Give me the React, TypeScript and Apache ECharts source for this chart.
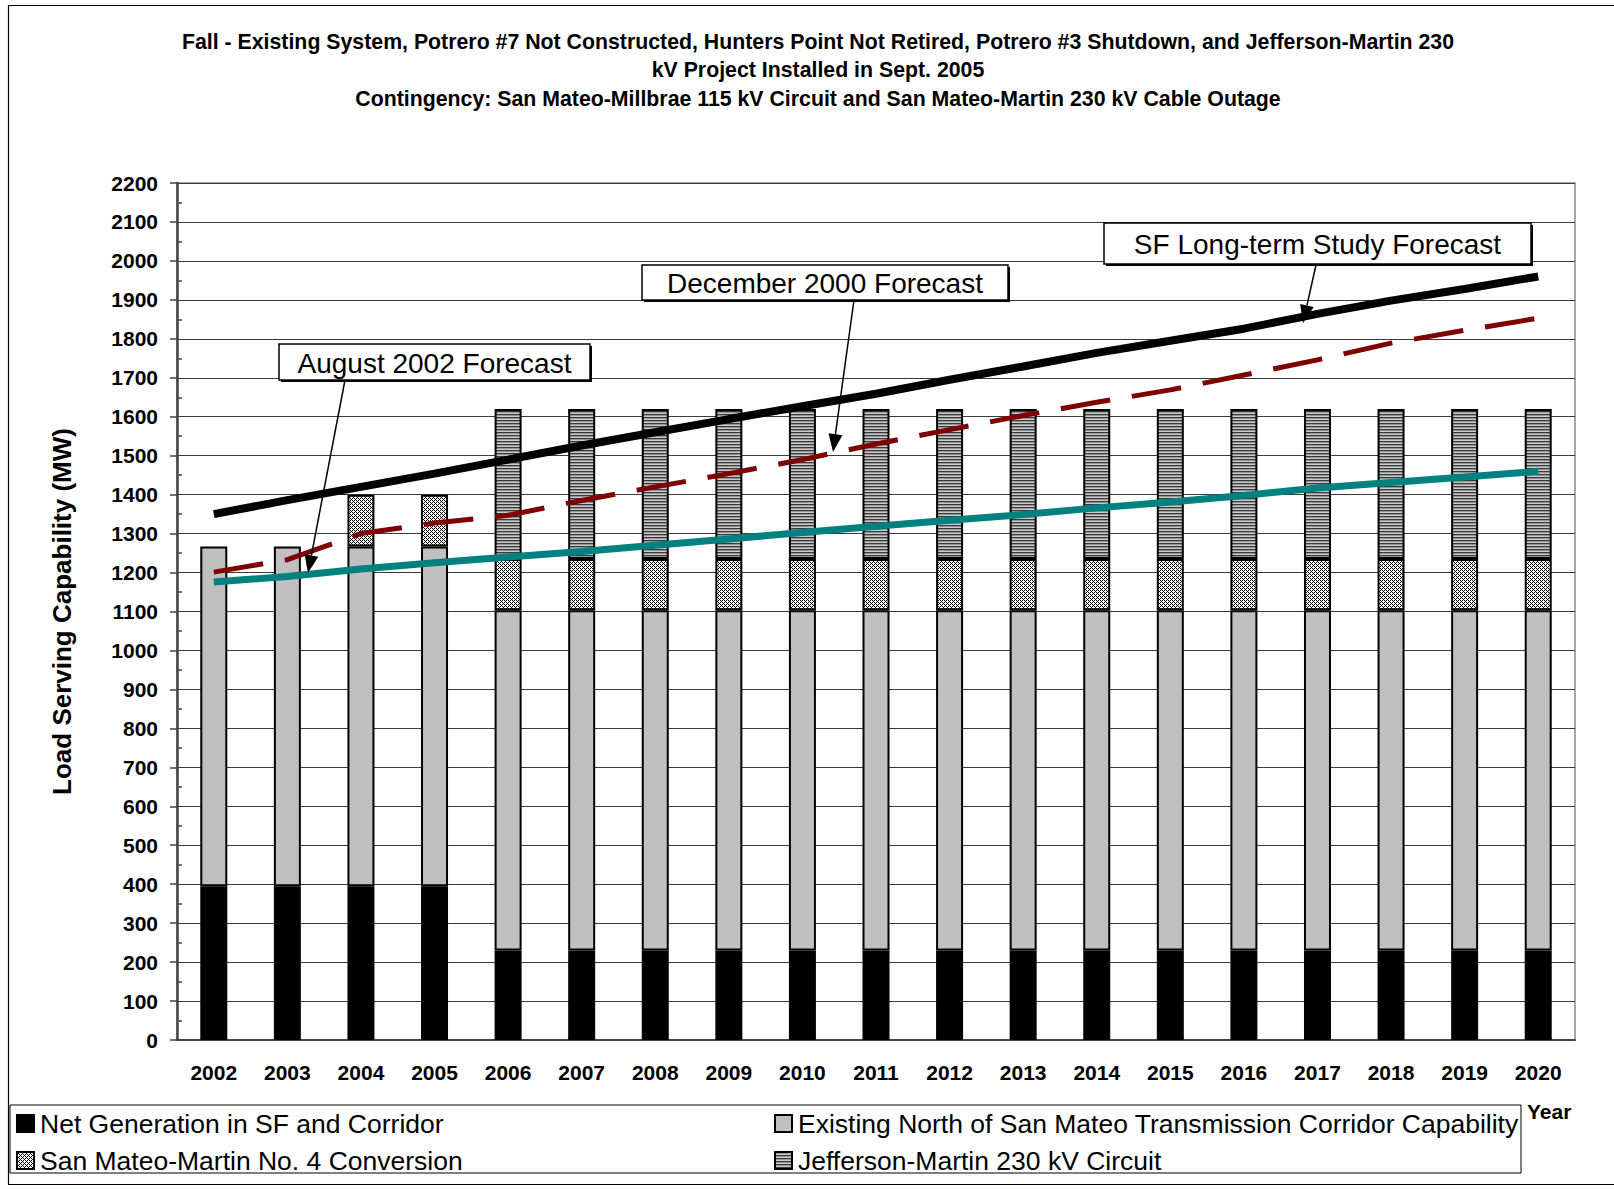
import React, { useEffect, useRef } from 'react';
import * as echarts from 'echarts';

const years = ['2002', '2003', '2004', '2005', '2006', '2007', '2008', '2009', '2010', '2011', '2012', '2013', '2014', '2015', '2016', '2017', '2018', '2019', '2020'];

const netGeneration = [395, 395, 395, 395, 230, 230, 230, 230, 230, 230, 230, 230, 230, 230, 230, 230, 230, 230, 230];
const existingCorridor = [872, 872, 872, 872, 873, 873, 873, 873, 873, 873, 873, 873, 873, 873, 873, 873, 873, 873, 873];
const smmConversion = [null, null, 133, 133, 132, 132, 132, 132, 132, 132, 132, 132, 132, 132, 132, 132, 132, 132, 132];
const jeffersonMartin = [null, null, null, null, 385, 385, 385, 385, 385, 385, 385, 385, 385, 385, 385, 385, 385, 385, 385];

const sfLongTermForecast = [1350, 1386, 1420, 1454, 1490, 1526, 1560, 1594, 1627, 1659, 1695, 1729, 1764, 1795, 1826, 1864, 1898, 1928, 1960];
const dec2000Forecast = [1201, 1233, 1300, 1327, 1347, 1385, 1420, 1454, 1490, 1530, 1567, 1603, 1637, 1669, 1707, 1746, 1789, 1822, 1853];
const aug2002Forecast = [1176, 1190, 1209, 1225, 1240, 1254, 1270, 1286, 1303, 1319, 1334, 1349, 1366, 1381, 1398, 1417, 1431, 1445, 1460];

const yMin = 0;
const yMax = 2200;
const yStep = 100;

const titleLines = [
  'Fall - Existing System, Potrero #7 Not Constructed, Hunters Point Not Retired, Potrero #3 Shutdown, and Jefferson-Martin 230',
  'kV Project Installed in Sept. 2005',
  'Contingency: San Mateo-Millbrae 115 kV Circuit and San Mateo-Martin 230 kV Cable Outage',
];

const seriesNames = {
  net: 'Net Generation in SF and Corridor',
  existing: 'Existing North of San Mateo Transmission Corridor Capability',
  conversion: 'San Mateo-Martin No. 4 Conversion',
  jm: 'Jefferson-Martin 230 kV Circuit',
  sf: 'SF Long-term Study Forecast',
  dec: 'December 2000 Forecast',
  aug: 'August 2002 Forecast',
};

const FONT = 'Liberation Sans, Arial, Helvetica, sans-serif';

function makePattern(w: number, h: number, draw: (ctx: CanvasRenderingContext2D) => void) {
  const c = document.createElement('canvas');
  c.width = w;
  c.height = h;
  const ctx = c.getContext('2d')!;
  draw(ctx);
  return { image: c.toDataURL(), repeat: 'repeat', imageWidth: w, imageHeight: h } as any;
}

function arrow(x1: number, y1: number, x2: number, y2: number) {
  const dx = x2 - x1;
  const dy = y2 - y1;
  const L = Math.hypot(dx, dy);
  const ux = dx / L;
  const uy = dy / L;
  const hl = 18;
  const hw = 7;
  const bx = x2 - ux * hl;
  const by = y2 - uy * hl;
  return [
    { type: 'line', z: 100, shape: { x1, y1, x2: bx, y2: by }, style: { stroke: '#000', lineWidth: 1.5 } },
    {
      type: 'polygon',
      z: 100,
      shape: { points: [[x2, y2], [bx - uy * hw, by + ux * hw], [bx + uy * hw, by - ux * hw]] },
      style: { fill: '#000' },
    },
  ];
}

function callout(text: string, x: number, y: number, w: number, h: number) {
  return [
    { type: 'rect', z: 101, shape: { x: x + 2, y: y + 2, width: w, height: h }, style: { fill: '#000' } },
    { type: 'rect', z: 102, shape: { x, y, width: w, height: h }, style: { fill: '#fff', stroke: '#000', lineWidth: 1.5 } },
    {
      type: 'text',
      z: 103,
      style: {
        text,
        x: x + w / 2,
        y: y + h / 2 + 1,
        align: 'center',
        verticalAlign: 'middle',
        textAlign: 'center',
        textVerticalAlign: 'middle',
        fontSize: 28,
        fontFamily: FONT,
        fill: '#000',
      },
    },
  ];
}

export default function App() {
  const ref = useRef<HTMLDivElement>(null);

  useEffect(() => {
    const chart = echarts.init(ref.current!, null, { renderer: 'svg' });

    const conversionPattern = makePattern(4, 4, (ctx) => {
      ctx.fillStyle = '#ffffff';
      ctx.fillRect(0, 0, 4, 4);
      ctx.fillStyle = '#000000';
      for (let yy = 0; yy < 4; yy++) {
        for (let xx = 0; xx < 4; xx++) {
          if ((xx - yy + 8) % 4 === 0 || (xx + yy) % 4 === 2) ctx.fillRect(xx, yy, 1, 1);
        }
      }
    });
    const jmPattern = makePattern(4, 3, (ctx) => {
      ctx.fillStyle = '#3a3a3a';
      ctx.fillRect(0, 0, 4, 1);
      ctx.fillStyle = '#959595';
      ctx.fillRect(0, 1, 4, 1);
      ctx.fillStyle = '#cacaca';
      ctx.fillRect(0, 2, 4, 1);
    });

    const barBase = {
      type: 'bar',
      stack: 'capability',
      barWidth: 27,
      z: 2,
    };

    const legendBase = {
      orient: 'vertical',
      top: 1110,
      height: 72,
      itemWidth: 17,
      itemHeight: 17,
      itemGap: 10,
      icon: 'rect',
      selectedMode: false,
      padding: 0,
      textStyle: { fontSize: 26.5, lineHeight: 20, fontFamily: FONT, color: '#000', padding: [0, 0, 0, 1] },
    };

    const graphic: any[] = [
      { type: 'rect', z: 0, silent: true, shape: { x: 8.5, y: 5.5, width: 1700, height: 1179 }, style: { fill: 'none', stroke: '#000', lineWidth: 1.2 } },
      { type: 'rect', z: 0, silent: true, shape: { x: 10, y: 1105, width: 1511, height: 68 }, style: { fill: 'none', stroke: '#000', lineWidth: 1 } },
      ...titleLines.map((t, i) => ({
        type: 'text',
        z: 10,
        style: {
          text: t,
          x: 818,
          y: 42 + i * 28.3,
          align: 'center',
          verticalAlign: 'middle',
          textAlign: 'center',
          textVerticalAlign: 'middle',
          fontSize: 21.3,
          fontWeight: 'bold',
          fontFamily: FONT,
          fill: '#000',
        },
      })),
      {
        type: 'text',
        z: 10,
        style: { text: 'Year', x: 1527, y: 1111, verticalAlign: 'middle', textVerticalAlign: 'middle', fontSize: 21, fontWeight: 'bold', fontFamily: FONT, fill: '#000' },
      },
      ...arrow(1316, 265, 1303, 323),
      ...arrow(854, 300, 833, 452),
      ...arrow(345, 380, 308, 573),
      ...callout(seriesNames.sf, 1104, 223, 427, 41),
      ...callout(seriesNames.dec, 642, 265, 366, 35),
      ...callout(seriesNames.aug, 279, 344, 311, 36),
    ];

    const option: any = {
      animation: false,
      backgroundColor: '#fff',
      textStyle: { fontFamily: FONT },
      grid: { left: 177, right: 39, top: 183, bottom: 149, show: true, borderColor: '#8a8a8a', borderWidth: 1.5, backgroundColor: 'transparent' },
      legend: [
        { ...legendBase, left: 16, data: [seriesNames.net, seriesNames.conversion] },
        { ...legendBase, left: 774, data: [seriesNames.existing, seriesNames.jm] },
      ],
      xAxis: {
        type: 'category',
        data: years,
        axisLine: { lineStyle: { color: '#444', width: 2 } },
        axisTick: { show: false },
        axisLabel: { fontSize: 21, fontWeight: 'bold', color: '#000', margin: 22, fontFamily: FONT },
      },
      yAxis: [
        {
          type: 'value',
          min: yMin,
          max: yMax,
          interval: yStep,
          name: 'Load Serving Capability (MW)',
          nameLocation: 'middle',
          nameGap: 102,
          nameTextStyle: { fontSize: 26, fontWeight: 'bold', color: '#000', fontFamily: FONT },
          axisLine: { show: true, lineStyle: { color: '#444', width: 2.5 } },
          axisTick: { show: true, length: 7, lineStyle: { color: '#444', width: 1.5 } },
          axisLabel: { fontSize: 21, fontWeight: 'bold', color: '#000', margin: 19, fontFamily: FONT, formatter: (v: number) => String(v) },
          splitLine: { show: true, lineStyle: { color: '#3a3a3a', width: 1 } },
        },
        {
          type: 'value',
          min: yMin,
          max: yMax,
          interval: yStep,
          position: 'left',
          axisLine: { show: false },
          axisLabel: { show: false },
          splitLine: { show: false },
          axisTick: { show: false, inside: true },
          minorTick: { show: true, splitNumber: 2, length: 5, lineStyle: { color: '#444', width: 1.5 } },
        },
      ],
      series: [
        { ...barBase, name: seriesNames.net, data: netGeneration, itemStyle: { color: '#000', borderColor: '#000', borderWidth: 2 } },
        { ...barBase, name: seriesNames.existing, data: existingCorridor, itemStyle: { color: '#c0c0c0', borderColor: '#000', borderWidth: 2 } },
        { ...barBase, name: seriesNames.conversion, data: smmConversion, itemStyle: { color: conversionPattern, borderColor: '#000', borderWidth: 2 } },
        { ...barBase, name: seriesNames.jm, data: jeffersonMartin, itemStyle: { color: jmPattern, borderColor: '#000', borderWidth: 2 } },
        {
          type: 'line',
          name: seriesNames.sf,
          data: sfLongTermForecast,
          symbol: 'none',
          z: 5,
          lineStyle: { color: '#000', width: 8, cap: 'butt' },
        },
        {
          type: 'line',
          name: seriesNames.dec,
          data: dec2000Forecast,
          symbol: 'none',
          z: 5,
          lineStyle: { color: '#800000', width: 5, type: [50, 22], cap: 'butt' },
        },
        {
          type: 'line',
          name: seriesNames.aug,
          data: aug2002Forecast,
          symbol: 'none',
          z: 5,
          lineStyle: { color: '#008080', width: 7, cap: 'butt' },
        },
      ],
      graphic,
    };

    chart.setOption(option);
    return () => chart.dispose();
  }, []);

  return <div ref={ref} style={{ position: 'absolute', left: 0, top: 0, width: 1614, height: 1189, background: '#fff' }} />;
}
